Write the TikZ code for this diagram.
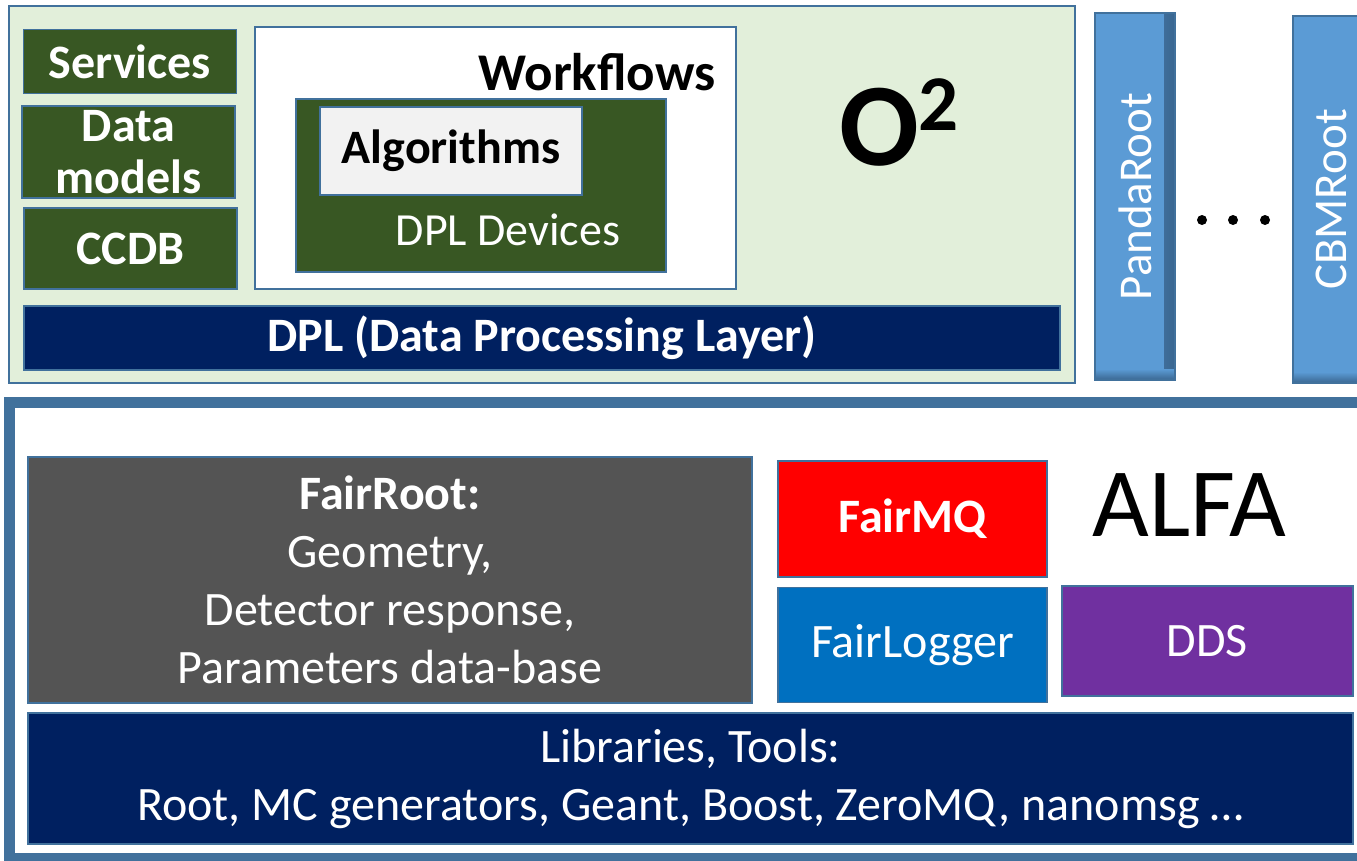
\documentclass[tikz,border=0pt]{standalone}
\usepackage{fontspec}
\setmainfont{Carlito}
\usepackage{tikz}
\usetikzlibrary{positioning}
\definecolor{frameblue}{HTML}{41719C}
\definecolor{oliveback}{HTML}{E2EFDA}
\definecolor{leafgreen}{HTML}{385723}
\definecolor{deepnavy}{HTML}{002060}
\definecolor{algogray}{HTML}{F2F2F2}
\definecolor{rootblue}{HTML}{5B9BD5}
\definecolor{rootshadow}{HTML}{3A6690}
\definecolor{fairgray}{HTML}{545454}
\definecolor{mqred}{HTML}{FF0000}
\definecolor{loggerblue}{HTML}{0070C0}
\definecolor{ddspurple}{HTML}{7030A0}
\tikzstyle{thinframe} = [draw=frameblue, line width=1.5pt, inner sep=0pt, align=center]
\tikzstyle{greenbox} = [thinframe, fill=leafgreen, text=white, minimum width=213pt, font=\fontsize{48}{52}\selectfont\bfseries]
\tikzstyle{alfabox} = [thinframe, text=white, font=\fontsize{48}{58}\selectfont]
\tikzstyle{rootbox} = [draw=frameblue, line width=1.5pt, fill=rootblue, minimum width=80pt, minimum height=367pt,
    path picture={
        \shade[left color=rootblue, right color=rootshadow] ([xshift=-11pt]path picture bounding box.north east) rectangle (path picture bounding box.south east);
        \shade[top color=rootblue, bottom color=rootshadow] ([yshift=11pt]path picture bounding box.south west) rectangle (path picture bounding box.south east);
    }]
\tikzstyle{rootlabel} = [rotate=90, text=white, font=\fontsize{47}{50}\selectfont]

\begin{document}
\begin{tikzpicture}[x=1pt, y=-1pt]
    \useasboundingbox (0,0) rectangle (1357,860);

    % O2 block
    \node (otwo) [draw=frameblue, line width=2pt, fill=oliveback, minimum width=1066pt, minimum height=377pt] at (542,194.5) {};
    \node (services) [greenbox, minimum height=64pt] at (130,61.5) {Services};
    \node (datamod) [greenbox, minimum height=92pt] at (128.5,152) {Data\\models};
    \node (ccdb) [greenbox, minimum height=81pt] at (130.5,248.5) {CCDB};
    \node (wflow) [thinframe, fill=white, minimum width=481pt, minimum height=262pt] at (495.5,158) {};
    \node (wflowlabel) [anchor=base, font=\fontsize{53}{56}\selectfont\bfseries] at (597,90) {Workflows};
    \node (devices) [thinframe, fill=leafgreen, minimum width=370pt, minimum height=173pt] at (481,185.5) {};
    \node (algo) [thinframe, fill=algogray, minimum width=262pt, minimum height=88pt, font=\fontsize{48}{50}\selectfont\bfseries] at (451,151) {Algorithms};
    \node (devlabel) [anchor=base, text=white, font=\fontsize{46}{50}\selectfont] at (508,245) {DPL Devices};
    \node (dpl) [greenbox, fill=deepnavy, minimum width=1036pt, minimum height=64pt] at (542,338) {DPL (Data Processing Layer)};
    \node (otwolabel) [anchor=base, font=\fontsize{118}{120}\selectfont\bfseries] at (899,165) {O\raisebox{35pt}{\fontsize{79}{80}\selectfont 2}};

    % experiment frameworks
    \node (panda) [rootbox] at (1135,196.5) {};
    \node (pandalabel) [rootlabel] at (panda.center) {PandaRoot};
    \node (cbm) [rootbox] at (1333,199.5) {};
    \node (cbmlabel) [rootlabel] at (1331,199.5) {CBMRoot};
    \foreach \d in {1202,1233,1265}
        \fill (\d,220) circle (5pt);

    % ALFA block
    \node (alfa) [draw=frameblue, line width=11pt, minimum width=1400pt, minimum height=456pt] at (709.5,630.5) {};
    \node (fairroot) [alfabox, fill=fairgray, minimum width=724pt, minimum height=246pt] at (390,580) {\textbf{FairRoot:}\\Geometry,\\Detector response,\\Parameters data-base};
    \node (fairmq) [alfabox, fill=mqred, minimum width=269pt, minimum height=116pt, font=\fontsize{48}{58}\selectfont\bfseries] at (912.5,519) {FairMQ};
    \node (fairlog) [alfabox, fill=loggerblue, minimum width=269pt, minimum height=115pt, below=9pt of fairmq] {FairLogger};
    \node (dds) [alfabox, fill=ddspurple, minimum width=291pt, minimum height=110pt] at (1207.5,641) {DDS};
    \node (alfalabel) [anchor=base, font=\fontsize{98}{100}\selectfont] at (1189.5,536) {ALFA};
    \node (libs) [alfabox, fill=deepnavy, minimum width=1325pt, minimum height=131pt] at (690.5,778.5) {Libraries, Tools:\\Root, MC generators, Geant, Boost, ZeroMQ, nanomsg …};
\end{tikzpicture}
\end{document}
